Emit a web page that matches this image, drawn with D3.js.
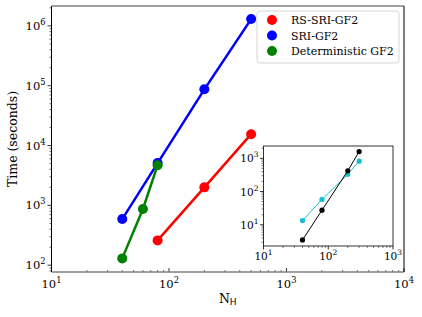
<!DOCTYPE html>
<html><head><meta charset="utf-8">
<script src="https://cdn.jsdelivr.net/npm/d3@7"></script>
<style>body{margin:0;background:#fff}svg{display:block}text{font-family:"DejaVu Serif",serif;fill:#000}</style>
</head><body><svg id="c" width="422" height="317"></svg>
<script>
const seriesNames = ["RS-SRI-GF2", "SRI-GF2", "Deterministic GF2"];
const seriesColors = ["#ff0000", "#0000ff", "#008000"];
const rsX = [80, 200, 500];
const rsY = [260, 2000, 15500];
const sriX = [40, 80, 200, 500];
const sriY = [590, 5100, 87000, 1300000];
const detX = [40, 60, 80];
const detY = [130, 870, 4700];
const xTickExp = [1, 2, 3, 4];
const yTickExp = [2, 3, 4, 5, 6];
const insetBlackX = [40, 80, 200, 300];
const insetBlackY = [3.5, 27.5, 420, 1600];
const insetCyanX = [40, 80, 200, 300];
const insetCyanY = [13.4, 58, 330, 820];
const insetXTickExp = [1, 2, 3];
const insetYTickExp = [1, 2, 3];

const svg = d3.select("#c");
const L = 51.5, R = 404, T = 6, B = 272;
const x = d3.scaleLog().domain([10, 10000]).range([L, R]);
const y = d3.scaleLog().domain([77, 2.15e6]).range([B, T]);

function sup(sel, base, exp) {
  sel.append("tspan").text(base);
  sel.append("tspan").attr("dy", -5).attr("font-size", "0.72em").text(exp);
}
function minors(lo, hi) {
  const out = [];
  for (let e = Math.floor(Math.log10(lo)); e <= Math.ceil(Math.log10(hi)); e++)
    for (let k = 2; k <= 9; k++) { const v = k * Math.pow(10, e); if (v > lo && v < hi) out.push(v); }
  return out;
}

// x axis ticks (inward)
const gx = svg.append("g");
minors(10, 10000).forEach(v => gx.append("line").attr("x1", x(v)).attr("x2", x(v)).attr("y1", B).attr("y2", B - 2).attr("stroke", "#000").attr("stroke-width", 0.6));
xTickExp.forEach(e => {
  const v = Math.pow(10, e);
  gx.append("line").attr("x1", x(v)).attr("x2", x(v)).attr("y1", B).attr("y2", B - 4).attr("stroke", "#000").attr("stroke-width", 0.8);
  const t = gx.append("text").attr("x", x(v)).attr("y", B + 16).attr("text-anchor", "middle").attr("font-size", 11.5);
  sup(t, "10", e);
});
// y axis ticks (outward)
const gy = svg.append("g");
minors(77, 2.15e6).forEach(v => gy.append("line").attr("x1", L).attr("x2", L - 2).attr("y1", y(v)).attr("y2", y(v)).attr("stroke", "#000").attr("stroke-width", 0.6));
yTickExp.forEach(e => {
  const v = Math.pow(10, e);
  gy.append("line").attr("x1", L).attr("x2", L - 4).attr("y1", y(v)).attr("y2", y(v)).attr("stroke", "#000").attr("stroke-width", 0.8);
  const t = gy.append("text").attr("x", L - 6).attr("y", y(v) + 4).attr("text-anchor", "end").attr("font-size", 11.5);
  sup(t, "10", e);
});

// axis labels
svg.append("text").attr("transform", `translate(17,${(T + B) / 2}) rotate(-90)`).attr("text-anchor", "middle").attr("font-size", 12.5).text("Time (seconds)");
const xl = svg.append("text").attr("x", (L + R) / 2).attr("y", 303).attr("text-anchor", "middle").attr("font-size", 12.5);
xl.append("tspan").text("N");
xl.append("tspan").attr("dy", 2).attr("font-size", 9).attr("font-family", "DejaVu Sans").text("H");

// series
const line = d3.line().x(d => x(d[0])).y(d => y(d[1]));
const all = [[rsX, rsY], [sriX, sriY], [detX, detY]];
all.forEach((s, i) => {
  const pts = s[0].map((v, j) => [v, s[1][j]]);
  svg.append("path").attr("d", line(pts)).attr("fill", "none").attr("stroke", seriesColors[i]).attr("stroke-width", 2.5);
  svg.selectAll(null).data(pts).enter().append("circle").attr("cx", d => x(d[0])).attr("cy", d => y(d[1])).attr("r", 5).attr("fill", seriesColors[i]);
});

// frame
svg.append("line").attr("x1", L).attr("x2", R).attr("y1", T).attr("y2", T).attr("stroke", "#808080").attr("stroke-width", 1.6);
svg.append("line").attr("x1", L).attr("x2", R).attr("y1", B).attr("y2", B).attr("stroke", "#808080").attr("stroke-width", 1.6);
svg.append("line").attr("x1", L).attr("x2", L).attr("y1", T).attr("y2", B).attr("stroke", "#000").attr("stroke-width", 1);
svg.append("line").attr("x1", R).attr("x2", R).attr("y1", T).attr("y2", B).attr("stroke", "#000").attr("stroke-width", 1);

// legend
const lg = svg.append("g");
lg.append("rect").attr("x", 257).attr("y", 11).attr("width", 142).attr("height", 52).attr("rx", 3).attr("fill", "#fff").attr("fill-opacity", 0.85).attr("stroke", "#ccc").attr("stroke-width", 0.8);
seriesNames.forEach((n, i) => {
  const yy = 20 + i * 15.5;
  lg.append("circle").attr("cx", 272).attr("cy", yy).attr("r", 5).attr("fill", seriesColors[i]);
  lg.append("text").attr("x", 291).attr("y", yy + 4).attr("font-size", 11).text(n);
});

// inset
const iL = 263.5, iR = 393, iT = 146, iB = 246;
const ix = d3.scaleLog().domain([10, 1000]).range([iL, iR]);
const iy = d3.scaleLog().domain([2.3, 2350]).range([iB, iT]);
const ig = svg.append("g");
ig.append("rect").attr("x", iL).attr("y", iT).attr("width", iR - iL).attr("height", iB - iT).attr("fill", "#fff").attr("stroke", "#000").attr("stroke-width", 0.8);
minors(10, 1000).forEach(v => ig.append("line").attr("x1", ix(v)).attr("x2", ix(v)).attr("y1", iB).attr("y2", iB + 2).attr("stroke", "#000").attr("stroke-width", 0.5));
minors(2.3, 2350).forEach(v => ig.append("line").attr("x1", iL).attr("x2", iL - 2).attr("y1", iy(v)).attr("y2", iy(v)).attr("stroke", "#000").attr("stroke-width", 0.5));
insetXTickExp.forEach(e => {
  const v = Math.pow(10, e);
  ig.append("line").attr("x1", ix(v)).attr("x2", ix(v)).attr("y1", iB).attr("y2", iB + 3.5).attr("stroke", "#000").attr("stroke-width", 0.8);
  const t = ig.append("text").attr("x", ix(v)).attr("y", iB + 14).attr("text-anchor", "middle").attr("font-size", 10.5);
  sup(t, "10", e);
});
insetYTickExp.forEach(e => {
  const v = Math.pow(10, e);
  ig.append("line").attr("x1", iL).attr("x2", iL - 3.5).attr("y1", iy(v)).attr("y2", iy(v)).attr("stroke", "#000").attr("stroke-width", 0.8);
  const t = ig.append("text").attr("x", iL - 5).attr("y", iy(v) + 4).attr("text-anchor", "end").attr("font-size", 10.5);
  sup(t, "10", e);
});
const iline = d3.line().x(d => ix(d[0])).y(d => iy(d[1]));
[[insetBlackX, insetBlackY, "#000"], [insetCyanX, insetCyanY, "#17becf"]].reverse().forEach(s => {
  const pts = s[0].map((v, j) => [v, s[1][j]]);
  ig.append("path").attr("d", iline(pts)).attr("fill", "none").attr("stroke", s[2]).attr("stroke-width", 1);
  ig.selectAll(null).data(pts).enter().append("circle").attr("cx", d => ix(d[0])).attr("cy", d => iy(d[1])).attr("r", 2.6).attr("fill", s[2]);
});
</script></body></html>
